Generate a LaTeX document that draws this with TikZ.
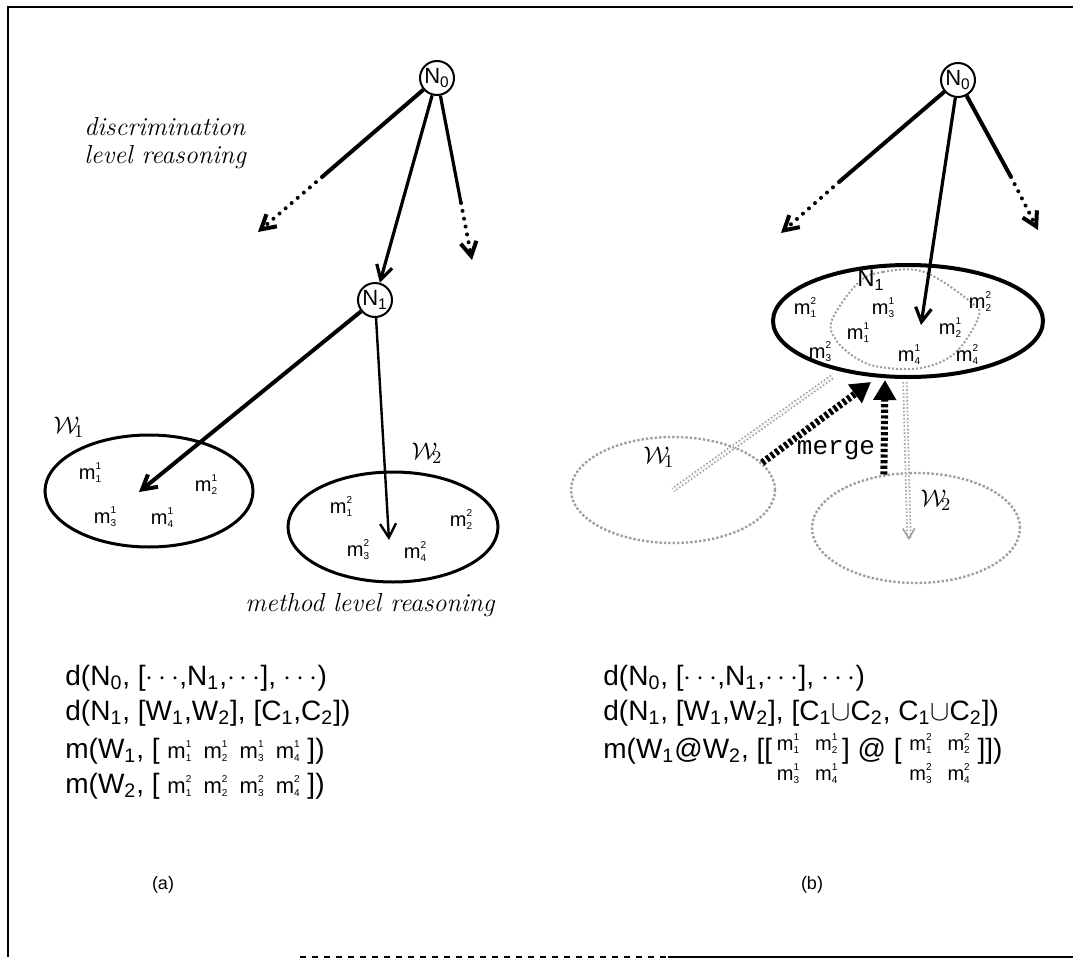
\documentclass[tikz,border=0pt]{standalone}
\usepackage{fontspec}
\usetikzlibrary{arrows.meta,shapes.geometric}
\newfontfamily\formfont{Liberation Sans}
\newfontfamily\codefont{Liberation Mono}
\newcommand{\tinydig}[1]{{\fontsize{5}{5}\selectfont#1}}
\newcommand{\mlab}[2]{m\rlap{\raisebox{0.5em}{\tinydig{#1}}}\raisebox{-0.15em}{\tinydig{#2}}}
\newcommand{\mgrid}[1]{\raisebox{4pt}{\fontsize{10}{15}\selectfont
  \begin{tabular}[t]{@{}c@{\hspace{8pt}}c@{}}
    \mlab{#1}{1} & \mlab{#1}{2}\\ \mlab{#1}{3} & \mlab{#1}{4}
  \end{tabular}}}
\begin{document}
\begin{tikzpicture}[x=0.5pt, y=-0.5pt,
  knot/.style={draw, circle, line width=1pt, inner sep=0pt, minimum size=17pt,
    font=\formfont\fontsize{11}{11}\selectfont},
  world/.style={draw, ellipse, line width=1.5pt, inner sep=0pt},
  ghost/.style={draw=gray!75, ellipse, densely dotted, line width=1.2pt, inner sep=0pt},
  ghostline/.style={draw=gray!75, densely dotted, line width=0.8pt, double=white,
    double distance=1pt},
  mm/.style={font=\formfont\fontsize{10}{10}\selectfont, inner sep=0pt},
  wname/.style={font=\fontsize{13}{13}\selectfont, inner sep=0pt},
  lbl/.style={font=\fontsize{13}{14}\selectfont\itshape, align=left, inner sep=0pt},
  formula/.style={font=\formfont\fontsize{14}{14}\selectfont, anchor=base west, inner sep=0pt},
  opentip/.style={-{Straight Barb[length=7pt,width=8pt]}},
  dotcont/.style={line width=2pt, line cap=round, dash pattern=on 0pt off 4pt, opentip},
  merging/.style={line width=3.5pt, dash pattern=on 1.6pt off 1.2pt,
    -{Triangle[length=10pt,width=11pt]}}]
  \useasboundingbox (0,0) rectangle (1073,959);

  \draw[line width=1pt] (8,957) -- (8,7) -- (1073,7);
  \draw[line width=1pt, dashed] (300,957) -- (668,957);
  \draw[line width=1pt] (668,957) -- (1073,957);

  \node[knot] (N0a) at (437,78) {N\textsubscript{0}};
  \node[knot] (N1a) at (375,300) {N\textsubscript{1}};
  \coordinate (sa) at (322,177);
  \coordinate (ea) at (258,232);
  \coordinate (sb) at (461,203);
  \coordinate (eb) at (472,260);
  \draw[line width=2pt] (N0a) -- (sa);
  \draw[dotcont] (sa) -- (ea);
  \draw[line width=1.6pt] (N0a) -- (sb);
  \draw[dotcont] (sb) -- (eb);
  \draw[opentip, line width=1.6pt] (N0a) -- (N1a);

  \node[lbl, anchor=west] (disc) at (84,143) {discrimination\\level reasoning};

  \node[world, minimum width=104pt, minimum height=56pt] (W1a) at (149,491) {};
  \node[world, minimum width=105pt, minimum height=55pt] (W2a) at (393,527) {};
  \coordinate (t1) at (139,492);
  \coordinate (t2) at (389,540);
  \draw[opentip, line width=2pt] (N1a) -- (t1);
  \draw[opentip, line width=1.2pt] (N1a) -- (t2);
  \node[wname] (w1a) at (69,427) {$\mathcal{W}_{\!1}$};
  \node[wname] (w2a) at (427,453) {$\mathcal{W}_{\!2}$};

  \node[mm] at (90,473) {\mlab{1}{1}};
  \node[mm] at (206,485) {\mlab{1}{2}};
  \node[mm] at (105,517) {\mlab{1}{3}};
  \node[mm] at (162,518) {\mlab{1}{4}};
  \node[mm] at (341,507) {\mlab{2}{1}};
  \node[mm] at (461,520) {\mlab{2}{2}};
  \node[mm] at (358,550) {\mlab{2}{3}};
  \node[mm] at (415,552) {\mlab{2}{4}};

  \node[lbl] (meth) at (370,605) {method level reasoning};

  \node[knot] (N0b) at (958,80) {N\textsubscript{0}};
  \coordinate (sc) at (839,182);
  \coordinate (ec) at (781,233);
  \coordinate (sd) at (1011,177);
  \coordinate (ed) at (1038,230);
  \coordinate (tm) at (921,325);
  \draw[line width=2pt] (N0b) -- (sc);
  \draw[dotcont] (sc) -- (ec);
  \draw[line width=2pt] (N0b) -- (sd);
  \draw[dotcont] (sd) -- (ed);

  \draw[gray!75, densely dotted, line width=1pt]
    plot[smooth cycle, tension=0.6] coordinates {
      (858,283) (883,272) (924,272) (972,303) (978,318) (955,353)
      (921,368) (880,367) (856,358) (836,340) (832,320)
    };
  \node[draw, ellipse, line width=2pt, inner sep=0pt, minimum width=135pt,
    minimum height=56pt] (N1box) at (908,321) {};
  \draw[opentip, line width=1.6pt] (N0b) -- (tm);
  \node[font=\formfont\fontsize{12}{12}\selectfont, inner sep=0pt] (N1b) at (871,280) {N\textsubscript{1}};

  \node[mm] at (805,308) {\mlab{2}{1}};
  \node[mm] at (883,308) {\mlab{1}{3}};
  \node[mm] at (858,333) {\mlab{1}{1}};
  \node[mm] at (950,328) {\mlab{1}{2}};
  \node[mm] at (980,302) {\mlab{2}{2}};
  \node[mm] at (820,352) {\mlab{2}{3}};
  \node[mm] at (909,355) {\mlab{1}{4}};
  \node[mm] at (967,355) {\mlab{2}{4}};

  \node[ghost, minimum width=102pt, minimum height=53pt] (W1b) at (673,490) {};
  \node[ghost, minimum width=104pt, minimum height=55pt] (W2b) at (916,528) {};
  \node[wname] (w1b) at (659,457) {$\mathcal{W}_{\!1}$};
  \node[wname] (w2b) at (936,500) {$\mathcal{W}_{\!2}$};
  \coordinate (g1) at (832,377);
  \coordinate (g2) at (905,382);
  \coordinate (g3) at (909,540);
  \draw[ghostline] (g1) -- (W1b.center);
  \draw[ghostline, -{Straight Barb[length=5pt,width=6pt]}] (g2) -- (g3);

  \coordinate (m1) at (871,382);
  \coordinate (m2) at (885,380);
  \draw[merging] (W1b.17) -- (m1);
  \draw[merging] (W2b.121) -- (m2);
  \node[font=\codefont\fontsize{13}{13}\selectfont, inner sep=0pt, fill=white] (merge) at (836,450) {merge};

  \node[formula] (fa1) at (65,685) {d(N\textsubscript{0}, [$\cdots$,N\textsubscript{1},$\cdots$], $\cdots$)};
  \node[formula] (fa2) at (65,720) {d(N\textsubscript{1}, [W\textsubscript{1},W\textsubscript{2}], [C\textsubscript{1},C\textsubscript{2}])};
  \node[formula] (fa3) at (65,758) {m(W\textsubscript{1}, [ {\fontsize{11}{11}\selectfont\mlab{1}{1}\ \ \mlab{1}{2}\ \ \mlab{1}{3}\ \ \mlab{1}{4}} ])};
  \node[formula] (fa4) at (65,793) {m(W\textsubscript{2}, [ {\fontsize{11}{11}\selectfont\mlab{2}{1}\ \ \mlab{2}{2}\ \ \mlab{2}{3}\ \ \mlab{2}{4}} ])};

  \node[formula] (fb1) at (603,685) {d(N\textsubscript{0}, [$\cdots$,N\textsubscript{1},$\cdots$], $\cdots$)};
  \node[formula] (fb2) at (603,720) {d(N\textsubscript{1}, [W\textsubscript{1},W\textsubscript{2}], [C\textsubscript{1}$\cup$C\textsubscript{2}, C\textsubscript{1}$\cup$C\textsubscript{2}])};
  \node[formula] (fb3) at (603,758) {m(W\textsubscript{1}@W\textsubscript{2}, [[\,\mgrid{1}\,] @ [\ \mgrid{2}\ ]])};

  \node[font=\formfont\fontsize{9}{9}\selectfont] (capa) at (163,885) {(a)};
  \node[font=\formfont\fontsize{9}{9}\selectfont] (capb) at (812,885) {(b)};
\end{tikzpicture}
\end{document}
